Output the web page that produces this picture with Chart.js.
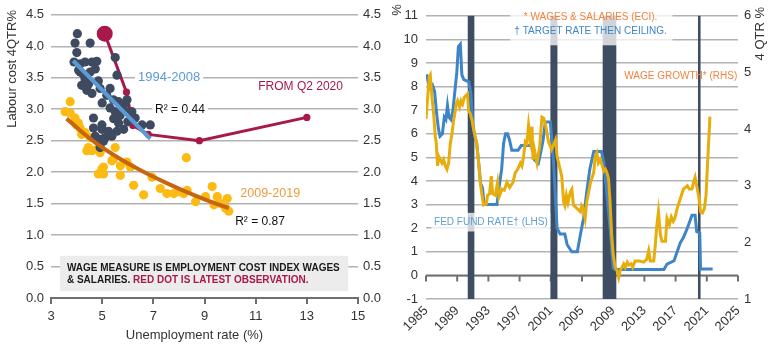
<!DOCTYPE html>
<html>
<head>
<meta charset="utf-8">
<script src="https://cdn.jsdelivr.net/npm/chart.js@4.4.0/dist/chart.umd.min.js"></script>
<style>
  html, body { margin: 0; padding: 0; background: #fff; }
  #wrap { position: relative; width: 770px; height: 347px; overflow: hidden; }
  #c1 { position: absolute; left: 0; top: 0; }
  #c2 { position: absolute; left: 390px; top: 0; }
</style>
</head>
<body>
<div id="wrap">
  <canvas id="c1" width="392" height="347"></canvas>
  <canvas id="c2" width="380" height="347"></canvas>
</div>
<script>
// ---------- Left panel: unemployment rate (%) vs labour cost growth (4QTR %) ----------
// 1994-2008 quarters
const navyU = [4.03,3.94,4.53,4.01,3.90,4.14,4.33,4.60,4.79,4.14,4.33,4.53,4.73,4.20,4.40,4.60,4.92,5.31,5.18,5.58,5.51,5.44,5.64,5.77,5.97,5.31,5.51,5.84,4.66,4.99,6.10,6.29,6.56,6.88,4.99,5.25,5.64,5.58,5.84,6.16,5.90,4.73,4.92,5.12,5.38,4.92,5.05,4.66,4.27,4.47,4.85,5.00,5.70,6.00,5.45,4.08];
const navyW = [4.20,4.05,4.05,3.90,3.75,3.72,3.75,3.75,3.76,3.59,3.48,3.59,3.64,3.38,3.30,3.25,3.33,3.33,3.22,3.54,3.82,3.15,3.12,3.07,3.15,3.02,2.96,2.99,2.86,2.75,2.91,2.86,2.75,2.75,2.68,2.65,2.78,2.65,2.68,2.96,3.09,2.57,2.52,2.55,2.57,2.39,2.49,2.70,3.55,3.40,3.45,3.10,2.90,2.80,2.85,3.62];
// 2009-2019 quarters
const goldU = [3.75,3.55,3.75,3.94,4.07,4.14,4.33,4.53,4.46,4.40,4.60,4.79,4.92,5.44,5.71,5.97,6.10,4.99,4.85,5.05,5.38,5.51,6.23,6.62,6.95,7.27,7.53,7.80,8.00,8.19,8.32,8.29,8.65,9.04,9.30,9.50,9.63,9.82,9.89,9.95,9.37,4.20,4.00,5.71,5.05];
const goldW = [3.12,2.96,2.94,2.86,2.78,2.70,2.63,2.55,2.39,2.34,2.34,2.36,2.31,2.21,2.10,2.16,2.08,2.05,1.97,1.97,2.18,2.39,1.79,1.64,1.92,1.74,1.66,1.66,1.69,1.66,1.71,2.23,1.53,1.61,1.77,1.61,1.50,1.43,1.58,1.38,1.48,2.60,2.75,1.95,2.08];
// From Q2 2020 to the latest observation
const covidU = [13.0, 8.8, 6.8, 6.2, 5.95, 5.1];
const covidW = [2.87, 2.5, 2.6, 2.74, 3.27, 4.2];
// Fitted lines
const fitAU = [3.87, 6.88];
const fitAW = [3.77, 2.53];
const fitBU = [3.61, 4.5, 5.5, 6.5, 7.5, 8.5, 9.5, 9.95];
const fitBW = [2.85, 2.54, 2.26, 2.03, 1.83, 1.65, 1.49, 1.43];
const uTicks = [3, 5, 7, 9, 11, 13, 15];

// ---------- Right panel: Fed funds rate (LHS) and wage growth (RHS) ----------
const fedYears = [1985.0,1985.15,1985.4,1985.6,1985.85,1986.1,1986.35,1986.6,1986.8,1987.1,1987.35,1987.55,1987.75,1987.95,1988.2,1988.45,1988.7,1988.95,1989.15,1989.4,1989.6,1989.85,1990.5,1990.75,1991.0,1991.25,1991.5,1991.75,1992.0,1992.25,1992.45,1994.1,1994.35,1994.7,1994.95,1995.2,1995.45,1995.7,1996.0,1996.8,1997.2,1998.6,1998.9,1999.4,1999.7,2000.0,2000.3,2000.94,2001.36,2001.8,2002.2,2002.8,2003.1,2003.7,2004.4,2004.8,2005.2,2005.6,2006.0,2006.5,2007.5,2007.8,2008.2,2008.6,2009.0,2009.2,2015.5,2015.9,2016.8,2017.2,2017.6,2018.0,2018.5,2019.1,2019.5,2019.7,2020.1,2020.2,2021.75];
const fedRate = [8.5,8.45,7.9,7.9,8.05,7.8,6.9,6.2,5.9,6.0,6.7,6.6,7.2,6.7,6.6,7.0,7.8,8.6,9.7,9.8,8.5,8.3,8.2,7.7,6.4,5.9,5.6,4.8,3.9,3.7,3.0,3.0,3.7,4.5,5.6,6.0,6.0,5.75,5.3,5.3,5.5,5.5,4.9,4.75,5.2,5.7,6.5,6.5,4.77,2.0,1.75,1.75,1.3,1.0,1.0,1.73,2.42,3.53,4.5,5.25,5.25,4.77,3.4,2.0,0.3,0.25,0.25,0.48,0.62,1.0,1.38,1.6,2.0,2.55,2.55,1.86,1.8,0.27,0.27];
const eciYears = [1985.0,1985.42,1985.55,1985.77,1985.98,1986.19,1986.32,1986.49,1986.62,1986.83,1987.05,1987.26,1987.47,1987.69,1987.9,1988.12,1988.33,1988.54,1988.76,1988.88,1989.05,1989.31,1989.48,1989.69,1989.91,1990.12,1990.33,1990.46,1990.68,1990.9,1991.1,1991.3,1991.5,1991.75,1991.96,1992.18,1992.38,1992.73,1992.9,1993.15,1993.37,1993.54,1993.88,1994.18,1994.36,1994.74,1995.04,1995.38,1995.72,1996.15,1996.45,1996.75,1997.1,1997.3,1997.51,1997.73,1997.94,1998.15,1998.37,1998.59,1998.72,1998.89,1999.23,1999.57,1999.87,2000.08,2000.3,2000.7,2001.1,2001.6,2001.8,2002.4,2002.65,2002.8,2003.0,2003.2,2003.5,2003.7,2003.9,2004.35,2004.8,2004.95,2005.15,2005.4,2005.6,2005.85,2006.1,2006.5,2006.7,2006.9,2007.1,2007.35,2007.6,2007.8,2008.0,2008.2,2008.4,2008.6,2008.8,2009.0,2009.25,2009.5,2009.7,2009.9,2010.35,2010.55,2010.8,2011.0,2011.3,2011.5,2011.8,2012.4,2012.9,2013.3,2013.55,2013.75,2014.2,2014.4,2014.6,2014.8,2015.05,2015.25,2015.7,2015.9,2016.2,2016.45,2016.7,2016.9,2017.2,2017.6,2018.0,2018.5,2018.75,2019.1,2019.3,2019.5,2019.75,2020.0,2020.2,2020.45,2020.7,2020.9,2021.1,2021.4];
const eciGrowth = [4.18,4.93,4.96,4.55,4.27,3.87,3.75,3.35,3.52,3.46,3.40,3.46,3.35,3.29,3.40,3.75,3.92,4.15,4.33,4.44,4.50,4.39,4.50,4.44,4.56,4.59,4.62,4.33,4.27,4.15,4.00,3.87,3.75,3.40,3.06,2.83,2.66,2.68,2.83,2.86,3.17,2.86,2.83,3.06,2.80,2.94,2.92,3.06,2.97,3.06,3.23,3.29,3.40,3.35,3.52,3.78,3.75,4.07,3.81,4.04,3.46,3.64,3.40,3.69,4.21,4.19,4.10,3.78,3.64,3.81,3.52,3.17,2.71,2.65,2.83,2.70,2.89,2.94,2.66,2.60,2.54,2.65,2.60,2.42,2.71,2.89,3.06,3.23,3.52,3.58,3.40,3.46,3.35,3.26,3.29,3.23,3.12,2.71,2.14,1.79,1.56,1.50,1.38,1.50,1.62,1.56,1.65,1.60,1.62,1.56,1.67,1.67,1.65,1.70,1.85,1.67,1.67,1.96,2.31,2.54,2.14,2.02,2.02,2.42,2.31,2.45,2.37,2.42,2.60,2.77,2.94,3.00,2.94,2.94,3.06,3.15,2.97,2.77,2.54,2.52,2.60,2.83,3.40,4.22];
// US recessions (start, end as decimal years)
const recessionStart = [1990.35, 2000.95, 2007.65, 2019.87];
const recessionEnd   = [1991.2,  2001.85, 2009.4,  2020.2];
const yearTicks = [1985, 1989, 1993, 1997, 2001, 2005, 2009, 2013, 2017, 2021, 2025];

// ---------- styling ----------
const FONT = "'Liberation Sans', Arial, sans-serif";
const RED = '#A8184B';
const NAVY = '#3E4A5F';
const GOLD_DOT = '#FDBA12';
const BAR = '#3F4D63';
const GRID = '#b2b2b2';
const TXT = '#333333';
Chart.defaults.font.family = FONT;
Chart.defaults.font.size = 13;
Chart.defaults.color = TXT;

const toPts = (xs, ys) => xs.map((x, i) => ({ x, y: ys[i] }));
const fixTicks = (vals) => (scale) => { scale.ticks = vals.map(v => ({ value: v })); };

function textAt(ctx, text, x, y, opts) {
  ctx.font = (opts.weight || 'normal') + ' ' + opts.size + 'px ' + FONT;
  ctx.textBaseline = 'middle';
  ctx.textAlign = opts.align || 'left';
  const w = ctx.measureText(text).width;
  if (opts.bg) {
    const x0 = opts.align === 'right' ? x - w : (opts.align === 'center' ? x - w / 2 : x);
    ctx.fillStyle = opts.bg;
    ctx.fillRect(x0 - 3, y - opts.size * 0.6, w + 6, opts.size * 1.2);
  }
  ctx.fillStyle = opts.color;
  ctx.fillText(text, x, y);
  return w;
}

// annotations placed in data coordinates of the left panel
const leftLabels = [
  { text: '1994-2008',    u: 6.40, w: 3.50, color: '#5B9BD5', size: 13, bg: '#fff' },
  { text: 'R² = 0.44',    u: 7.07, w: 3.00, color: '#111',    size: 12, bg: '#fff' },
  { text: 'FROM Q2 2020', u: 11.1, w: 3.36, color: RED,       size: 12 },
  { text: '2009-2019',    u: 10.4, w: 1.66, color: '#EE9A3A', size: 12.5 },
  { text: 'R² = 0.87',    u: 10.2, w: 1.22, color: '#111',    size: 12 }
];
const noteBox = { u0: 3.35, u1: 14.62, w0: 0.11, w1: 0.67 };

const leftDecor = {
  id: 'leftDecor',
  afterDatasetsDraw(chart) {
    const { ctx, scales: { x, y } } = chart;
    ctx.save();
    // explanatory note
    const bx0 = x.getPixelForValue(noteBox.u0), bx1 = x.getPixelForValue(noteBox.u1);
    const by0 = y.getPixelForValue(noteBox.w1), by1 = y.getPixelForValue(noteBox.w0);
    ctx.fillStyle = '#ECECEC';
    ctx.fillRect(bx0, by0, bx1 - bx0, by1 - by0);
    const tx = bx0 + 7;
    textAt(ctx, 'WAGE MEASURE IS EMPLOYMENT COST INDEX WAGES', tx, by0 + 12, { size: 10, weight: 'bold', color: '#1a1a1a' });
    const w1 = textAt(ctx, '& SALARIES. ', tx, by0 + 24, { size: 10, weight: 'bold', color: '#1a1a1a' });
    textAt(ctx, 'RED DOT IS LATEST OBSERVATION.', tx + w1, by0 + 24, { size: 10, weight: 'bold', color: RED });
    // series labels
    leftLabels.forEach(l => {
      textAt(ctx, l.text, x.getPixelForValue(l.u), y.getPixelForValue(l.w), l);
    });
    ctx.restore();
  },
  afterDraw(chart) {
    const { ctx } = chart;
    ctx.save();
    textAt(ctx, 'Unemployment rate (%)', 194.5, 335, { size: 13, color: TXT, align: 'center' });
    ctx.translate(12, 10);
    ctx.rotate(-Math.PI / 2);
    textAt(ctx, 'Labour cost 4QTR%', 0, 0, { size: 13, color: TXT, align: 'right' });
    ctx.restore();
  }
};

new Chart(document.getElementById('c1'), {
  type: 'scatter',
  data: {
    datasets: [
      { label: '2009-2019', data: toPts(goldU, goldW), backgroundColor: GOLD_DOT, pointRadius: 4.6, borderWidth: 0, order: 4 },
      { label: '1994-2008', data: toPts(navyU, navyW), backgroundColor: NAVY, pointRadius: 4.6, borderWidth: 0, order: 3 },
      { label: 'From Q2 2020', type: 'line', data: toPts(covidU, covidW), showLine: true,
        borderColor: RED, backgroundColor: RED, borderWidth: 3, tension: 0,
        pointRadius: covidU.map((_, i) => i === covidU.length - 1 ? 8 : 3.6), pointBorderWidth: 0, order: 5 },
      { label: 'Fit 1994-2008', type: 'line', data: toPts(fitAU, fitAW), showLine: true,
        borderColor: '#5B9BD5', borderWidth: 4, pointRadius: 0, order: 2 },
      { label: 'Fit 2009-2019', type: 'line', data: toPts(fitBU, fitBW), showLine: true,
        borderColor: '#C8650F', borderWidth: 4, pointRadius: 0, cubicInterpolationMode: 'monotone', order: 1 }
    ]
  },
  options: {
    responsive: false, animation: false, events: [],
    layout: { padding: { top: 10, left: 0, right: 0, bottom: 0 }, autoPadding: false },
    plugins: { legend: { display: false }, tooltip: { enabled: false } },
    scales: {
      x: {
        type: 'linear', min: 3, max: 15,
        afterBuildTicks: fixTicks(uTicks),
        afterFit: s => { s.height = 49; },
        grid: { display: true, drawOnChartArea: false, drawTicks: true, tickLength: 6, color: '#6e6e6e', lineWidth: 2 },
        border: { display: true, color: '#6e6e6e', width: 2 },
        ticks: { padding: 5, minRotation: 0, maxRotation: 0, callback: v => String(v) }
      },
      y: {
        min: 0, max: 4.5,
        afterFit: s => { s.width = 51; },
        ticks: { stepSize: 0.5, padding: 7, callback: v => v.toFixed(1) },
        grid: { color: GRID, lineWidth: 1.5, drawTicks: false },
        border: { display: false }
      },
      y2: {
        position: 'right', min: 0, max: 4.5,
        afterFit: s => { s.width = 34; },
        ticks: { stepSize: 0.5, padding: 5, callback: v => v.toFixed(1) },
        grid: { display: false, drawTicks: false },
        border: { display: false }
      }
    }
  },
  plugins: [leftDecor]
});

// ---------- Right panel decorations ----------
const noteTop = { x0: 1995.8, x1: 2016.6, v0: 9.75, v1: 11.33, cx: 2006.1 };
const fedLabelBox = { x0: 1985.7, x1: 2000.94, v0: 1.86, v1: 2.65 };

const rightDecor = {
  id: 'rightDecor',
  beforeDatasetsDraw(chart) {
    const { ctx, chartArea: a, scales: { x, y } } = chart;
    ctx.save();
    // zero line with year ticks
    const y0 = y.getPixelForValue(0);
    ctx.strokeStyle = '#707070';
    ctx.lineWidth = 2;
    ctx.beginPath();
    ctx.moveTo(a.left, y0); ctx.lineTo(a.right, y0);
    yearTicks.forEach(t => {
      const px = x.getPixelForValue(t);
      ctx.moveTo(px, y0); ctx.lineTo(px, y0 + 6);
    });
    ctx.stroke();
    // recession bars
    ctx.fillStyle = BAR;
    recessionStart.forEach((s, i) => {
      const xs = x.getPixelForValue(s), xe = x.getPixelForValue(recessionEnd[i]);
      ctx.fillRect(xs, a.top, xe - xs, a.bottom - a.top);
    });
    ctx.restore();
  },
  afterDatasetsDraw(chart) {
    const { ctx, scales: { x, y } } = chart;
    ctx.save();
    // footnote box at the top
    let bx0 = x.getPixelForValue(noteTop.x0), bx1 = x.getPixelForValue(noteTop.x1);
    let by0 = y.getPixelForValue(noteTop.v1), by1 = y.getPixelForValue(noteTop.v0);
    ctx.fillStyle = 'rgba(255,255,255,0.76)';
    ctx.fillRect(bx0, by0, bx1 - bx0, by1 - by0);
    const cx = x.getPixelForValue(noteTop.cx);
    textAt(ctx, '* WAGES & SALARIES (ECI).', cx, by0 + 9, { size: 10, color: '#F0843F', align: 'center' });
    textAt(ctx, '† TARGET RATE THEN CEILING.', cx, by0 + 23, { size: 10, color: '#3F86C8', align: 'center' });
    // Fed funds label
    bx0 = x.getPixelForValue(fedLabelBox.x0); bx1 = x.getPixelForValue(fedLabelBox.x1);
    by0 = y.getPixelForValue(fedLabelBox.v1); by1 = y.getPixelForValue(fedLabelBox.v0);
    ctx.fillStyle = 'rgba(255,255,255,0.76)';
    ctx.fillRect(bx0, by0, bx1 - bx0, by1 - by0);
    textAt(ctx, 'FED FUND RATE† (LHS)', (bx0 + bx1) / 2, by0 + 9, { size: 10, color: '#5E9FD8', align: 'center' });
    // wage growth label
    textAt(ctx, 'WAGE GROWTH* (RHS)', x.getPixelForValue(2024.9), y.getPixelForValue(8.43), { size: 10, color: '#F0843F', align: 'right' });
    ctx.restore();
  },
  afterDraw(chart) {
    const { ctx } = chart;
    ctx.save();
    ctx.translate(7, 10);
    ctx.rotate(-Math.PI / 2);
    textAt(ctx, '%', 0, 0, { size: 13, color: TXT, align: 'center' });
    ctx.restore();
    ctx.save();
    ctx.translate(370, 7);
    ctx.rotate(-Math.PI / 2);
    textAt(ctx, '4 QTR %', 0, 0, { size: 13, color: TXT, align: 'right' });
    ctx.restore();
  }
};

new Chart(document.getElementById('c2'), {
  type: 'line',
  data: {
    datasets: [
      { label: 'Fed fund rate', data: toPts(fedYears, fedRate), yAxisID: 'y',
        borderColor: '#3D85C6', borderWidth: 3, pointRadius: 0, tension: 0, order: 2 },
      { label: 'Wage growth', data: toPts(eciYears, eciGrowth), yAxisID: 'y2',
        borderColor: '#E6AD0B', borderWidth: 3, pointRadius: 0, tension: 0, order: 1 }
    ]
  },
  options: {
    responsive: false, animation: false, events: [],
    layout: { padding: { top: 10, left: 0, right: 0, bottom: 0 }, autoPadding: false },
    plugins: { legend: { display: false }, tooltip: { enabled: false } },
    scales: {
      x: {
        type: 'linear', min: 1985, max: 2025,
        afterBuildTicks: fixTicks(yearTicks),
        afterFit: s => { s.height = 48; },
        grid: { display: false, drawTicks: false },
        border: { display: false },
        ticks: { padding: 4, minRotation: 45, maxRotation: 45, autoSkip: false, callback: v => String(v) }
      },
      y: {
        min: -1, max: 11,
        afterFit: s => { s.width = 36; },
        ticks: { stepSize: 1, padding: 8 },
        grid: { color: GRID, lineWidth: 1.5, drawTicks: false },
        border: { display: false }
      },
      y2: {
        position: 'right', min: 1, max: 6,
        afterFit: s => { s.width = 32; },
        ticks: { stepSize: 1, padding: 6 },
        grid: { display: false, drawTicks: false },
        border: { display: false }
      }
    }
  },
  plugins: [rightDecor]
});
</script>
</body>
</html>
